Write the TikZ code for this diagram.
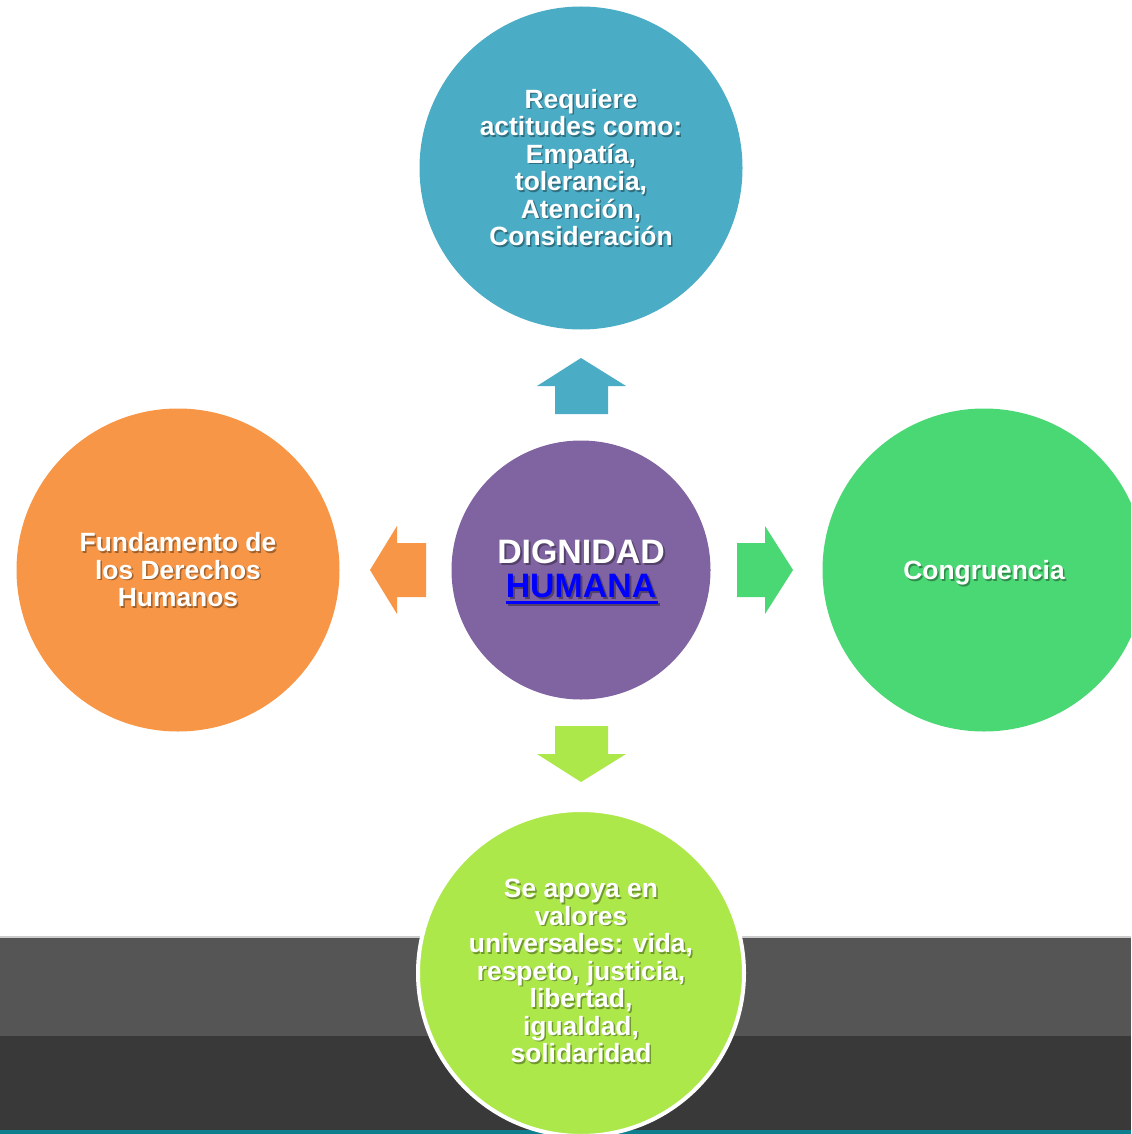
\documentclass[tikz,border=0pt]{standalone}
\usepackage{fontspec}
\setmainfont{Liberation Sans}
\begin{document}
\begin{tikzpicture}[x=0.75pt,y=-0.75pt,
  bubble/.style={circle,inner sep=0pt,minimum size=#1*0.75pt},
  lbl/.style={font=\bfseries\fontsize{19.8}{20.6}\selectfont,text=white,align=center,inner sep=0pt},
  shd/.style={font=\bfseries\fontsize{19.8}{20.6}\selectfont,text=black,opacity=0.35,align=center,inner sep=0pt},
  big/.style={font=\bfseries\fontsize{25.4}{26}\selectfont}]
\definecolor{cTop}{HTML}{4BACC6}
\definecolor{cLeft}{HTML}{F79646}
\definecolor{cRight}{HTML}{4AD874}
\definecolor{cMid}{HTML}{8064A2}
\definecolor{cBot}{HTML}{ADE84A}
\definecolor{bandA}{HTML}{555555}
\definecolor{bandB}{HTML}{393939}
\definecolor{teal}{HTML}{0E7F8E}
\useasboundingbox (0,0) rectangle (1131,1134);
\clip (0,0) rectangle (1131,1134);
% background bands
\fill[bandA] (0,937) rectangle (1131,1036);
\fill[black!20] (0,936) rectangle (1131,938);
\fill[bandB] (0,1036) rectangle (1131,1134);
\fill[teal] (0,1130) rectangle (1131,1134);
% circles
\node[bubble=323,fill=cTop] (top) at (581,168) {};
\node[bubble=323,fill=cLeft] (left) at (178,570) {};
\node[bubble=323,fill=cRight] (right) at (984,570) {};
\node[bubble=259,fill=cMid] (mid) at (581,570) {};
\node[bubble=326,fill=cBot,draw=white,line width=3pt] (bot) at (581,973) {};
% arrows
\fill[cTop] (555,414) -- (555,386) -- (537,386) -- (581,358) -- (626,386) -- (608,386) -- (608,414) -- cycle;
\fill[cBot] (555,726) -- (555,754) -- (537,754) -- (581,782) -- (626,754) -- (608,754) -- (608,726) -- cycle;
\fill[cLeft] (426,543) -- (397,543) -- (397,526) -- (370,570) -- (397,614) -- (397,597) -- (426,597) -- cycle;
\fill[cRight] (737,543) -- (765,543) -- (765,526) -- (793,570) -- (765,614) -- (765,597) -- (737,597) -- cycle;
% texts (each with a soft drop shadow)
\node[shd] at ([shift={(1.5,1)}]top.center) {Requiere\\actitudes como:\\Empatía,\\tolerancia,\\Atención,\\Consideración};
\node[lbl] (ttop) at ([shift={(0,-0.5)}]top.center) {Requiere\\actitudes como:\\Empatía,\\tolerancia,\\Atención,\\Consideración};
\node[shd] at ([shift={(1.5,1.5)}]left.center) {Fundamento de\\los Derechos\\Humanos};
\node[lbl] (tleft) at (left.center) {Fundamento de\\los Derechos\\Humanos};
\node[shd] at ([shift={(1.5,4.5)}]right.center) {Congruencia};
\node[lbl] (tright) at ([shift={(0,3)}]right.center) {Congruencia};
\node[shd] at ([shift={(1.5,-0.5)}]bot.center) {Se apoya en\\valores\\universales: vida,\\respeto, justicia,\\libertad,\\igualdad,\\solidaridad};
\node[lbl] (tbot) at ([shift={(0,-2)}]bot.center) {Se apoya en\\valores\\universales: vida,\\respeto, justicia,\\libertad,\\igualdad,\\solidaridad};
% center text
\node[shd,big] at (583,554) {DIGNIDAD};
\node[lbl,big] (dig) at (581,552) {DIGNIDAD};
\node[shd,big] at (583,588) {HUMANA};
\node[lbl,big,text=blue] (hum) at (581,586) {HUMANA};
\draw[black,opacity=0.35,line width=2.2pt] (508,604.5) -- (660,604.5);
\draw[blue,line width=2.2pt] (506,602.5) -- (658,602.5);
\end{tikzpicture}
\end{document}
